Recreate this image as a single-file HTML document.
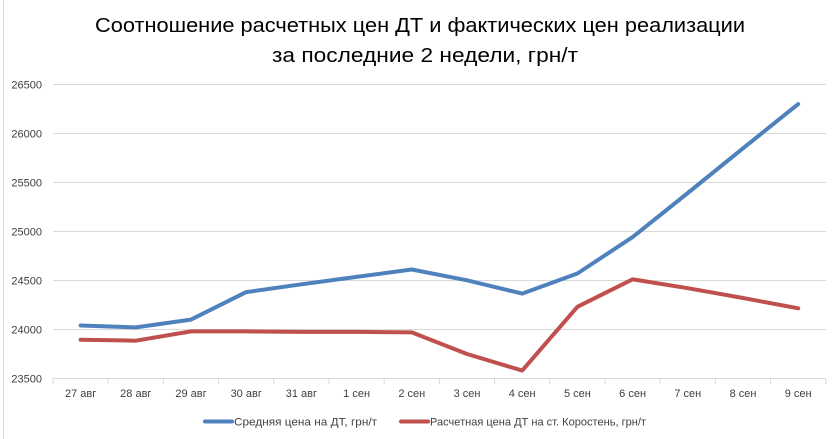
<!DOCTYPE html>
<html><head><meta charset="utf-8"><style>
html,body{margin:0;padding:0;background:#fff;}
svg{display:block;}
text{font-family:"Liberation Sans",sans-serif;fill:#404040;}
</style></head><body>
<svg width="832" height="439" viewBox="0 0 832 439" xmlns="http://www.w3.org/2000/svg">
<rect x="0" y="0" width="832" height="439" fill="#fff"/>
<line x1="3.5" y1="0" x2="3.5" y2="439" stroke="#d9d9d9" stroke-width="1"/>
<text x="420" y="32" font-size="20" text-anchor="middle" textLength="650" lengthAdjust="spacingAndGlyphs" style="fill:#000">Соотношение расчетных цен ДТ и фактических цен реализации</text>
<text x="425" y="62" font-size="20" text-anchor="middle" textLength="306" lengthAdjust="spacingAndGlyphs" style="fill:#000">за последние 2 недели, грн/т</text>
<g stroke="#d9d9d9" stroke-width="1">
<line x1="53" y1="84.5" x2="826" y2="84.5"/>
<line x1="53" y1="133.5" x2="826" y2="133.5"/>
<line x1="53" y1="182.5" x2="826" y2="182.5"/>
<line x1="53" y1="231.5" x2="826" y2="231.5"/>
<line x1="53" y1="280.5" x2="826" y2="280.5"/>
<line x1="53" y1="329.5" x2="826" y2="329.5"/>
<line x1="53" y1="378.5" x2="826" y2="378.5"/>
<line x1="53" y1="378.5" x2="53" y2="384"/>
<line x1="108.2" y1="378.5" x2="108.2" y2="384"/>
<line x1="163.4" y1="378.5" x2="163.4" y2="384"/>
<line x1="218.6" y1="378.5" x2="218.6" y2="384"/>
<line x1="273.8" y1="378.5" x2="273.8" y2="384"/>
<line x1="329" y1="378.5" x2="329" y2="384"/>
<line x1="384.2" y1="378.5" x2="384.2" y2="384"/>
<line x1="439.4" y1="378.5" x2="439.4" y2="384"/>
<line x1="494.6" y1="378.5" x2="494.6" y2="384"/>
<line x1="549.8" y1="378.5" x2="549.8" y2="384"/>
<line x1="605" y1="378.5" x2="605" y2="384"/>
<line x1="660.2" y1="378.5" x2="660.2" y2="384"/>
<line x1="715.4" y1="378.5" x2="715.4" y2="384"/>
<line x1="770.6" y1="378.5" x2="770.6" y2="384"/>
<line x1="825.8" y1="378.5" x2="825.8" y2="384"/>
</g>
<g font-size="11" text-anchor="end">
<text x="42" y="88.5">26500</text>
<text x="42" y="137.5">26000</text>
<text x="42" y="186.5">25500</text>
<text x="42" y="235.5">25000</text>
<text x="42" y="284.5">24500</text>
<text x="42" y="333.5">24000</text>
<text x="42" y="382.5">23500</text>
</g>
<g font-size="11" text-anchor="middle">
<text x="80.6" y="397">27 авг</text>
<text x="135.8" y="397">28 авг</text>
<text x="191" y="397">29 авг</text>
<text x="246.2" y="397">30 авг</text>
<text x="301.4" y="397">31 авг</text>
<text x="356.6" y="397">1 сен</text>
<text x="411.8" y="397">2 сен</text>
<text x="467" y="397">3 сен</text>
<text x="522.2" y="397">4 сен</text>
<text x="577.4" y="397">5 сен</text>
<text x="632.6" y="397">6 сен</text>
<text x="687.8" y="397">7 сен</text>
<text x="743" y="397">8 сен</text>
<text x="798.2" y="397">9 сен</text>
</g>
<polyline fill="none" stroke="#4f81bd" stroke-width="4" stroke-linejoin="round" stroke-linecap="round"
points="80.6,325.5 135.8,327.4 191,319.6 246.2,292.1 301.4,284.3 356.6,276.9 411.8,269.5 467,280.3 522.2,293.6 577.4,273.5 632.6,237.1 687.8,193 743,148.3 798.2,104.1"/>
<polyline fill="none" stroke="#c0504d" stroke-width="4" stroke-linejoin="round" stroke-linecap="round"
points="80.6,339.7 135.8,340.7 191,331.4 246.2,331.4 301.4,331.9 356.6,331.9 411.8,332.4 467,354 522.2,370.6 577.4,306.8 632.6,279.3 687.8,288.2 743,298 798.2,308.3"/>
<line x1="205" y1="421.5" x2="232" y2="421.5" stroke="#4f81bd" stroke-width="4" stroke-linecap="round"/>
<text x="234" y="425.5" font-size="11" textLength="143" lengthAdjust="spacingAndGlyphs">Средняя цена на ДТ, грн/т</text>
<line x1="401" y1="421.5" x2="428" y2="421.5" stroke="#c0504d" stroke-width="4" stroke-linecap="round"/>
<text x="430" y="425.5" font-size="11" textLength="216" lengthAdjust="spacingAndGlyphs">Расчетная цена ДТ на ст. Коростень, грн/т</text>
</svg>
</body></html>
